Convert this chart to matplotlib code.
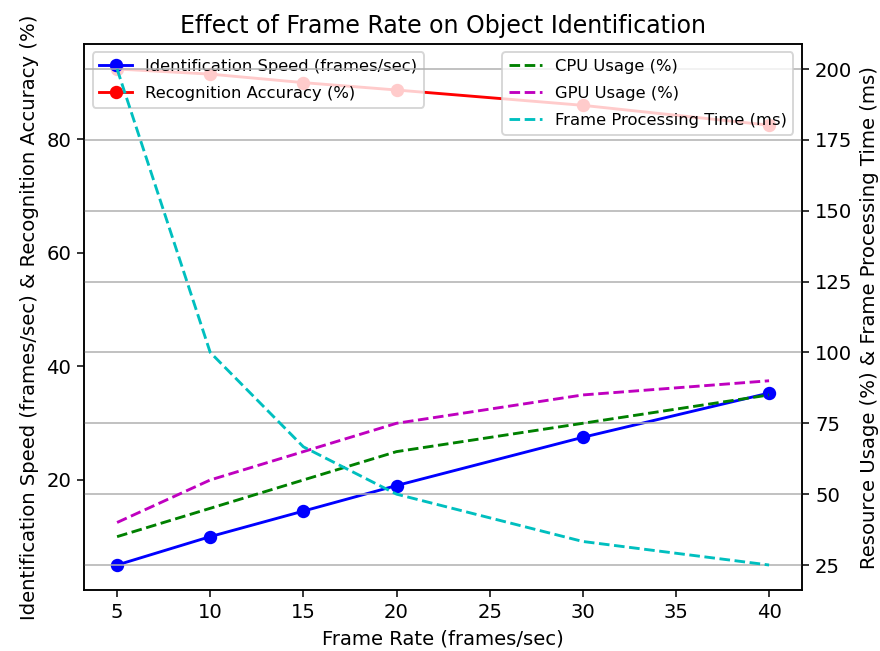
import matplotlib
matplotlib.use("Agg")
import matplotlib.pyplot as plt

# data
frame_rate = [5, 10, 15, 20, 30, 40]
ident_speed = [5, 10, 14.5, 19, 27.5, 35.3]
recog_acc = [92.4, 91.5, 90, 88.7, 86, 82.5]
cpu_usage = [35, 45, 55, 65, 75, 85]
gpu_usage = [40, 55, 65, 75, 85, 90]
proc_time = [200, 100, 66.7, 50, 33.3, 25]

plt.rcParams["font.size"] = 10.3

fig, ax1 = plt.subplots(figsize=(6.4, 4.735), dpi=137.5)
fig.subplots_adjust(left=0.096, right=0.911, top=0.932, bottom=0.094)

ax1.plot(frame_rate, ident_speed, "b-o", label="Identification Speed (frames/sec)")
ax1.plot(frame_rate, recog_acc, "r-o", label="Recognition Accuracy (%)")
ax1.set_xlabel("Frame Rate (frames/sec)")
ax1.set_ylabel("Identification Speed (frames/sec) & Recognition Accuracy (%)")
ax1.legend(loc="upper left", fontsize=8.6, labelspacing=0.73)

ax2 = ax1.twinx()
ax2.plot(frame_rate, cpu_usage, "g--", label="CPU Usage (%)")
ax2.plot(frame_rate, gpu_usage, "m--", label="GPU Usage (%)")
ax2.plot(frame_rate, proc_time, "c--", label="Frame Processing Time (ms)")
ax2.set_ylabel("Resource Usage (%) & Frame Processing Time (ms)")
ax2.legend(loc="upper right", fontsize=8.6, labelspacing=0.73)
ax2.grid(True)

ax1.set_title("Effect of Frame Rate on Object Identification", fontsize=12.4)
fig.savefig("out.png", dpi=137.5)
